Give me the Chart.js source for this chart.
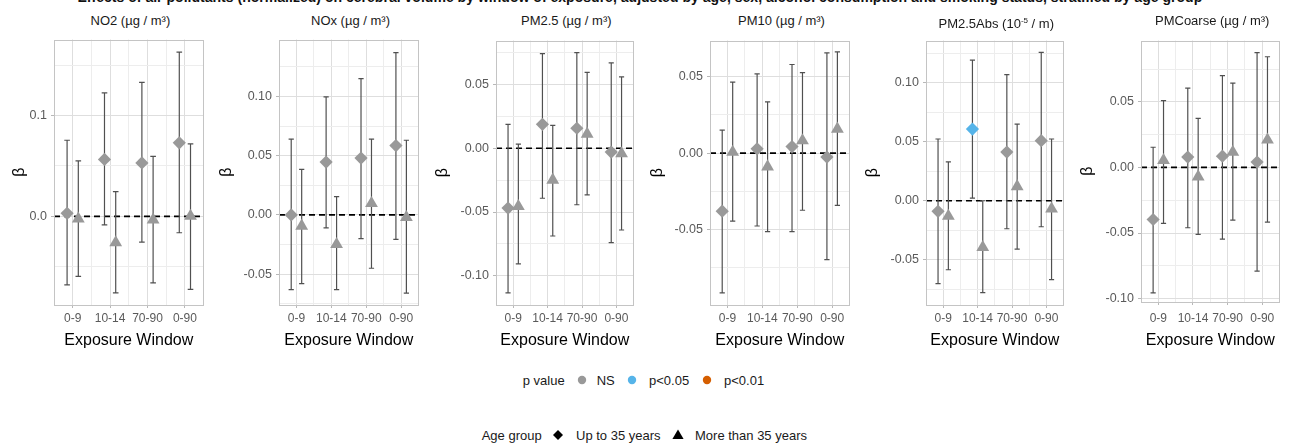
<!DOCTYPE html>
<html><head><meta charset="utf-8">
<script src="https://cdn.jsdelivr.net/npm/chart.js@4.4.1/dist/chart.umd.min.js"></script>
<style>
html,body{margin:0;padding:0;background:#fff;width:1290px;height:447px;overflow:hidden;position:relative;font-family:"Liberation Sans",Arial,sans-serif;}
canvas{position:absolute;}
.t{position:absolute;white-space:nowrap;}
svg{position:absolute;overflow:visible;}
</style></head><body>
<script>
// ---------- DATA ----------
const categories = ['0-9', '10-14', '70-90', '0-90'];
const panelTitles = ['NO2 (µg / m³)', 'NOx (µg / m³)', 'PM2.5 (µg / m³)', 'PM10 (µg / m³)', 'PM2.5Abs (10<sup style="font-size:8px">-5</sup> / m)', 'PMCoarse (µg / m³)'];
const groupNames = ['Up to 35 years', 'More than 35 years'];
const pLevels = ['NS', 'p<0.05', 'p<0.01'];

const no2UpEst = [0.003, 0.0565, 0.053, 0.073];
const no2UpLow = [-0.068, -0.0085, -0.0255, -0.0163];
const no2UpHigh = [0.0755, 0.1225, 0.133, 0.163];
const no2UpP = ['NS', 'NS', 'NS', 'NS'];
const no2OverEst = [-0.0025, -0.026, -0.0035, 0.0002];
const no2OverLow = [-0.0595, -0.076, -0.066, -0.0725];
const no2OverHigh = [0.055, 0.0245, 0.0595, 0.072];
const no2OverP = ['NS', 'NS', 'NS', 'NS'];

const noxUpEst = [0.000, 0.0446, 0.048, 0.0585];
const noxUpLow = [-0.063, -0.011, -0.02, -0.0207];
const noxUpHigh = [0.064, 0.0996, 0.115, 0.137];
const noxUpP = ['NS', 'NS', 'NS', 'NS'];
const noxOverEst = [-0.0093, -0.0248, 0.0097, -0.002];
const noxOverLow = [-0.058, -0.063, -0.045, -0.066];
const noxOverHigh = [0.0385, 0.0154, 0.064, 0.063];
const noxOverP = ['NS', 'NS', 'NS', 'NS'];

const pm25UpEst = [-0.0469, 0.0188, 0.0157, -0.003];
const pm25UpLow = [-0.1134, -0.0392, -0.0443, -0.074];
const pm25UpHigh = [0.0188, 0.0742, 0.075, 0.067];
const pm25UpP = ['NS', 'NS', 'NS', 'NS'];
const pm25OverEst = [-0.0455, -0.0249, 0.0112, -0.0042];
const pm25OverLow = [-0.0907, -0.0688, -0.0366, -0.0641];
const pm25OverHigh = [0.0033, 0.018, 0.0595, 0.056];
const pm25OverP = ['NS', 'NS', 'NS', 'NS'];

const pm10UpEst = [-0.038, 0.0028, 0.0043, -0.0026];
const pm10UpLow = [-0.0914, -0.0477, -0.0514, -0.0697];
const pm10UpHigh = [0.015, 0.0518, 0.058, 0.0656];
const pm10UpP = ['NS', 'NS', 'NS', 'NS'];
const pm10OverEst = [0.0007, -0.0089, 0.0082, 0.0158];
const pm10OverLow = [-0.0445, -0.0514, -0.0374, -0.0342];
const pm10OverHigh = [0.0465, 0.0335, 0.0527, 0.0662];
const pm10OverP = ['NS', 'NS', 'NS', 'NS'];

const absUpEst = [-0.009, 0.0608, 0.0413, 0.051];
const absUpLow = [-0.0704, 0.0022, -0.0238, -0.0221];
const absUpHigh = [0.0524, 0.1194, 0.107, 0.126];
const absUpP = ['NS', 'p<0.05', 'NS', 'NS'];
const absOverEst = [-0.013, -0.0396, 0.0121, -0.0069];
const absOverLow = [-0.0586, -0.078, -0.041, -0.067];
const absOverHigh = [0.0329, 0.000, 0.065, 0.0524];
const absOverP = ['NS', 'NS', 'NS', 'NS'];

const coarseUpEst = [-0.0397, 0.0079, 0.0086, 0.0041];
const coarseUpLow = [-0.0956, -0.046, -0.0547, -0.079];
const coarseUpHigh = [0.0154, 0.0605, 0.070, 0.0876];
const coarseUpP = ['NS', 'NS', 'NS', 'NS'];
const coarseOverEst = [0.0054, -0.0071, 0.0117, 0.021];
const coarseOverLow = [-0.0427, -0.051, -0.0402, -0.0417];
const coarseOverHigh = [0.051, 0.0374, 0.0643, 0.0844];
const coarseOverP = ['NS', 'NS', 'NS', 'NS'];

// axis ranges / tick labels per panel
const yMin = [-0.088, -0.076, -0.1229, -0.0994, -0.0885, -0.1026];
const yMax = [0.1755, 0.148, 0.0845, 0.0737, 0.136, 0.0968];
const yGridStep = [0.05, 0.025, 0.025, 0.025, 0.025, 0.025];
const yLabelStep = [0.1, 0.05, 0.05, 0.05, 0.05, 0.05];
const yDecimals = [1, 2, 2, 2, 2, 2];

const mainTitle = 'Effects of air pollutants (normalized) on cerebral volume by window of exposure, adjusted by age, sex, alcohol consumption and smoking status, stratified by age group';

// ---------- LAYOUT / STYLE ----------
const boxes = [
  {bx: 20, L: 54, R: 207, T: 36, B: 305},
  {bx: 227, L: 279, R: 422, T: 36, B: 305},
  {bx: 443, L: 496, R: 637, T: 37, B: 305},
  {bx: 658, L: 710, R: 853, T: 37, B: 305},
  {bx: 873, L: 926, R: 1067, T: 37, B: 305},
  {bx: 1088, L: 1141, R: 1283, T: 37, B: 302}
];
const pColors = {'NS': '#999999', 'p<0.05': '#56B4E9', 'p<0.01': '#D55E00'};
const dodge = 0.15, capHalf = 0.075;
const xLo = -0.5, xHi = categories.length - 0.5;
const MAJOR = '#DEDEDE', MINOR = '#EDEDED', TICKC = '#B8B8B8', NONE = 'rgba(0,0,0,0)';
const TICKTXT = '#5a5a5a';

const panels = [
  {est: [no2UpEst, no2OverEst], lo: [no2UpLow, no2OverLow], hi: [no2UpHigh, no2OverHigh], p: [no2UpP, no2OverP]},
  {est: [noxUpEst, noxOverEst], lo: [noxUpLow, noxOverLow], hi: [noxUpHigh, noxOverHigh], p: [noxUpP, noxOverP]},
  {est: [pm25UpEst, pm25OverEst], lo: [pm25UpLow, pm25OverLow], hi: [pm25UpHigh, pm25OverHigh], p: [pm25UpP, pm25OverP]},
  {est: [pm10UpEst, pm10OverEst], lo: [pm10UpLow, pm10OverLow], hi: [pm10UpHigh, pm10OverHigh], p: [pm10UpP, pm10OverP]},
  {est: [absUpEst, absOverEst], lo: [absUpLow, absOverLow], hi: [absUpHigh, absOverHigh], p: [absUpP, absOverP]},
  {est: [coarseUpEst, coarseOverEst], lo: [coarseUpLow, coarseOverLow], hi: [coarseUpHigh, coarseOverHigh], p: [coarseUpP, coarseOverP]}
];

Chart.defaults.font.family = '"Liberation Sans", Arial, sans-serif';

function isMult(v, s) { const r = v / s; return Math.abs(r - Math.round(r)) < 1e-6; }

const panelBorder = {
  id: 'panelBorder',
  afterDraw(chart) {
    const {ctx, chartArea: a} = chart;
    ctx.save();
    ctx.strokeStyle = '#C4C4C4';
    ctx.lineWidth = 1;
    ctx.strokeRect(Math.round(a.left) + 0.5, Math.round(a.top) + 0.5, Math.round(a.right - a.left) - 1, Math.round(a.bottom - a.top) - 1);
    ctx.restore();
  }
};

function addText(html, x, yc, opt) {
  opt = opt || {};
  const size = opt.size || 13;
  const d = document.createElement('div');
  d.className = 't';
  d.innerHTML = html;
  d.style.fontSize = size + 'px';
  d.style.lineHeight = size + 'px';
  d.style.top = (yc - size / 2) + 'px';
  d.style.color = opt.color || '#1a1a1a';
  if (opt.bold) d.style.fontWeight = 'bold';
  document.body.appendChild(d);
  if (opt.align === 'center') {
    d.style.left = (x - d.offsetWidth / 2) + 'px';
  } else {
    d.style.left = x + 'px';
  }
  return d;
}

function makePanel(i) {
  const box = boxes[i];
  const pan = panels[i];
  const left = Math.round(box.bx - 9.6);
  const top = box.T - 8;
  const bottomAll = 350;
  const W = box.R + 4 - left;
  const H = bottomAll - top;
  const xAxisH = bottomAll - box.B;
  const yAxisW = box.L - left;
  const cv = document.createElement('canvas');
  cv.width = W; cv.height = H;
  cv.style.left = left + 'px'; cv.style.top = top + 'px';
  cv.style.width = W + 'px'; cv.style.height = H + 'px';
  document.body.appendChild(cv);

  const datasets = [];
  // reference line at zero
  datasets.push({type: 'line', data: [{x: xLo, y: 0}, {x: xHi, y: 0}], borderColor: '#000', borderWidth: 1.7,
    borderDash: [6, 4], pointRadius: 0, order: 6});
  for (let g = 0; g < 2; g++) {
    const off = g === 0 ? -dodge : dodge;
    const seg = [];
    categories.forEach((c, k) => {
      const x = k + off;
      const lo = pan.lo[g][k], hi = pan.hi[g][k];
      seg.push({x: x - capHalf, y: hi}, {x: x + capHalf, y: hi}, {x: x, y: null});
      seg.push({x: x, y: hi}, {x: x, y: lo}, {x: x, y: null});
      seg.push({x: x - capHalf, y: lo}, {x: x + capHalf, y: lo}, {x: x, y: null});
    });
    datasets.push({type: 'line', data: seg, borderColor: '#505050', borderWidth: 1.2, pointRadius: 0,
      spanGaps: false, order: 4});
  }
  for (let g = 0; g < 2; g++) {
    const off = g === 0 ? -dodge : dodge;
    datasets.push({
      type: 'scatter',
      label: groupNames[g],
      data: categories.map((c, k) => ({x: k + off, y: pan.est[g][k]})),
      pointStyle: g === 0 ? 'rectRot' : 'triangle',
      pointRadius: g === 0 ? 6.6 : 7.4,
      pointBackgroundColor: pan.p[g].map(p => pColors[p]),
      pointBorderWidth: 0,
      pointBorderColor: 'rgba(0,0,0,0)',
      order: 1
    });
  }

  new Chart(cv, {
    type: 'scatter',
    data: {datasets},
    options: {
      responsive: false, animation: false, events: [],
      layout: {padding: {left: 0, right: 4, top: 8, bottom: 0}},
      plugins: {legend: {display: false}, tooltip: {enabled: false}, title: {display: false}},
      scales: {
        x: {
          type: 'linear', min: xLo, max: xHi,
          ticks: {
            stepSize: 0.5, autoSkip: false, maxRotation: 0, minRotation: 0,
            padding: 3 + (305 - box.B), color: TICKTXT, font: {size: 12},
            callback: v => isMult(v, 1) && v >= 0 && v < categories.length ? categories[Math.round(v)] : ''
          },
          grid: {
            lineWidth: 1, tickLength: 3, drawTicks: true,
            color: c => (!c.tick || c.tick.value <= xLo + 1e-9 || c.tick.value >= xHi - 1e-9) ? NONE : (isMult(c.tick.value, 1) ? MAJOR : MINOR),
            tickColor: c => (c.tick && isMult(c.tick.value, 1) && c.tick.value >= 0 && c.tick.value < categories.length) ? TICKC : NONE
          },
          border: {display: false},
          title: {display: true, text: 'Exposure Window', color: '#000', font: {size: 16}, padding: 0},
          afterFit: s => { s.height = xAxisH; }
        },
        y: {
          type: 'linear', min: yMin[i], max: yMax[i],
          ticks: {
            stepSize: yGridStep[i], includeBounds: false, padding: 4, color: TICKTXT, font: {size: 12.5},
            callback: v => {
              if (Math.abs(v) < 1e-9) v = 0;
              return isMult(v, yLabelStep[i]) ? v.toFixed(yDecimals[i]) : '';
            }
          },
          grid: {
            lineWidth: 1, tickLength: 3, drawTicks: true,
            color: c => !c.tick ? NONE : (isMult(c.tick.value, yLabelStep[i]) ? MAJOR : MINOR),
            tickColor: c => (c.tick && isMult(c.tick.value, yLabelStep[i])) ? TICKC : NONE
          },
          border: {display: false},
          title: {display: true, text: 'β', color: '#000', font: {size: 16}, padding: 0},
          afterFit: s => { s.width = yAxisW; }
        }
      }
    },
    plugins: [panelBorder]
  });

  addText(panelTitles[i], (box.L + box.R) / 2, 20, {size: 13, align: 'center', color: '#1a1a1a'});
}

for (let i = 0; i < panels.length; i++) makePanel(i);

// main title (clipped at the top edge like the reference)
(function () {
  const mctx = document.createElement('canvas').getContext('2d');
  mctx.font = 'bold 14px "Liberation Sans", Arial, sans-serif';
  const w = mctx.measureText(mainTitle).width;
  const size = 14 * 1125 / w;
  const d = document.createElement('div');
  d.className = 't';
  d.textContent = mainTitle;
  d.style.fontSize = size + 'px';
  d.style.lineHeight = size + 'px';
  d.style.fontWeight = 'bold';
  d.style.color = '#111';
  d.style.top = (1.6 - 0.85 * size) + 'px';
  document.body.appendChild(d);
  d.style.left = (640 - d.offsetWidth / 2) + 'px';
})();

// legends
function svgShape(kind, cx, cy, color) {
  const ns = 'http://www.w3.org/2000/svg';
  const s = document.createElementNS(ns, 'svg');
  s.setAttribute('width', '14'); s.setAttribute('height', '14');
  s.style.left = (cx - 7) + 'px'; s.style.top = (cy - 7) + 'px';
  let el;
  if (kind === 'circle') {
    el = document.createElementNS(ns, 'circle');
    el.setAttribute('cx', 7); el.setAttribute('cy', 7); el.setAttribute('r', 4.2);
  } else if (kind === 'diamond') {
    el = document.createElementNS(ns, 'polygon');
    el.setAttribute('points', '7,2 12,7 7,12 2,7');
  } else {
    el = document.createElementNS(ns, 'polygon');
    el.setAttribute('points', '7,1.5 12.6,11 1.4,11');
  }
  el.setAttribute('fill', color);
  s.appendChild(el);
  document.body.appendChild(s);
}
const leg1Y = 380, leg2Y = 435;
addText('p value', 522.7, leg1Y, {size: 13});
svgShape('circle', 581.7, leg1Y, pColors[pLevels[0]]);
addText(pLevels[0], 596.7, leg1Y, {size: 13});
svgShape('circle', 631.7, leg1Y, pColors[pLevels[1]]);
addText(pLevels[1], 649, leg1Y, {size: 13});
svgShape('circle', 706.7, leg1Y, pColors[pLevels[2]]);
addText(pLevels[2], 724, leg1Y, {size: 13});

addText('Age group', 481.7, leg2Y, {size: 13});
svgShape('diamond', 558.3, leg2Y, '#000');
addText(groupNames[0], 576, leg2Y, {size: 13});
svgShape('triangle', 678.3, leg2Y, '#000');
addText(groupNames[1], 695, leg2Y, {size: 13});
</script>
</body></html>
